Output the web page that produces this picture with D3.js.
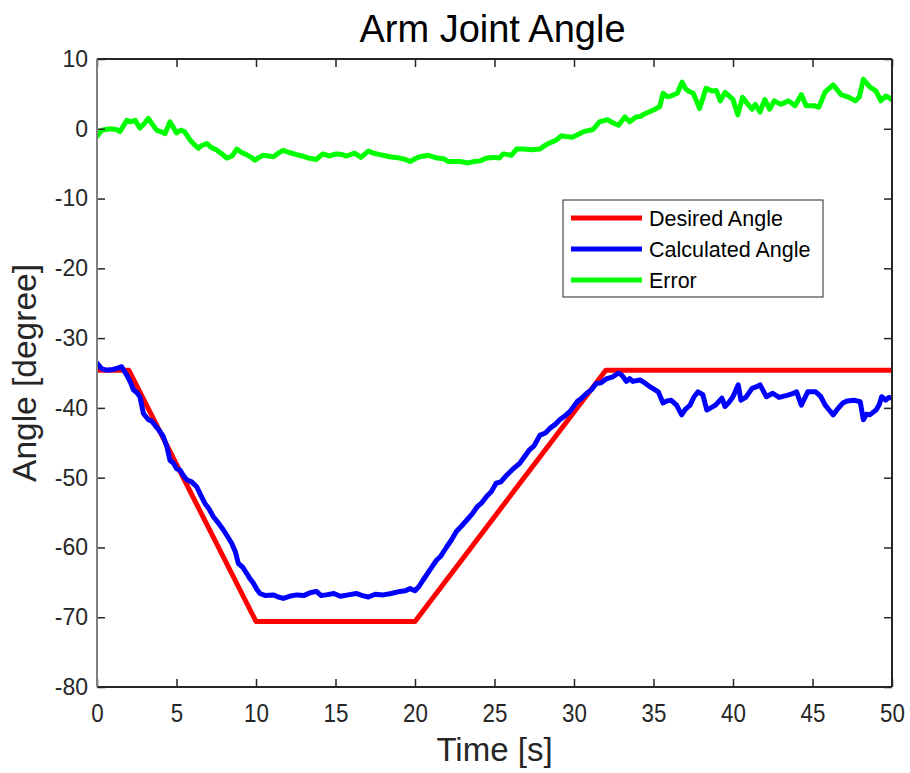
<!DOCTYPE html>
<html>
<head>
<meta charset="utf-8">
<script src="https://cdn.jsdelivr.net/npm/d3@7"></script>
<style>
  html, body { margin: 0; padding: 0; background: #fff; }
  svg { display: block; font-family: Arial, "Liberation Sans", Helvetica, sans-serif; }
</style>
</head>
<body>
<svg id="chart" width="910" height="773"></svg>
<script>
// Reference trajectory: ramp down, hold, ramp up, hold
const desiredTime  = [0, 2, 10, 20, 32, 50];
const desiredAngle = [-34.6, -34.6, -70.6, -70.6, -34.6, -34.6];

// Angle computed from the sensors
const calcTime = [0, 0.3, 0.61, 1.0, 1.3, 1.55, 1.87, 2.1, 2.29, 2.5, 2.7, 2.92, 3.23, 3.45, 3.65, 3.9, 4.17, 4.4, 4.59, 4.8, 5.0, 5.22, 5.4, 5.64, 5.95, 6.27, 6.5, 6.79, 7.05, 7.32, 7.6, 7.95, 8.2, 8.47, 8.7, 8.89, 9.15, 9.41, 9.6, 9.83, 10.05, 10.25, 10.6, 11.09, 11.4, 11.72, 12.1, 12.56, 13.0, 13.4, 13.8, 14.1, 14.4, 14.9, 15.3, 15.8, 16.3, 16.7, 17.07, 17.5, 18.0, 18.5, 19.06, 19.4, 19.69, 20.0, 20.25, 20.5, 20.94, 21.36, 21.6, 22.0, 22.3, 22.6, 22.9, 23.25, 23.6, 23.9, 24.2, 24.5, 24.8, 25.1, 25.4, 25.7, 26.1, 26.6, 27.2, 27.5, 27.86, 28.2, 28.5, 28.8, 29.1, 29.4, 29.75, 30.2, 30.5, 30.8, 31.1, 31.4, 31.7, 32.06, 32.4, 32.8, 33.0, 33.3, 33.5, 33.7, 34.15, 34.5, 34.8, 35.3, 35.6, 35.85, 36.1, 36.45, 36.77, 37.0, 37.3, 37.55, 37.8, 38.1, 38.35, 38.6, 38.9, 39.3, 39.5, 39.75, 40.0, 40.33, 40.5, 40.8, 41.2, 41.45, 41.7, 42.1, 42.5, 42.9, 43.4, 43.7, 44.0, 44.3, 44.7, 45.2, 45.5, 45.8, 46.05, 46.3, 46.6, 46.9, 47.2, 47.6, 48.0, 48.2, 48.4, 48.6, 49.0, 49.2, 49.35, 49.6, 49.8, 50.0];
const calcAngle = [-33.6, -34.4, -34.6, -34.5, -34.3, -34.1, -35.3, -36.3, -37.4, -37.8, -38.4, -40.8, -41.7, -41.9, -42.5, -43.2, -44.1, -45.6, -47.5, -47.9, -48.7, -48.9, -49.6, -50.3, -50.6, -51.3, -52.4, -53.7, -54.5, -55.6, -56.4, -57.5, -58.4, -59.4, -60.6, -62.3, -62.8, -63.7, -64.4, -65.1, -66.0, -66.6, -66.9, -66.8, -67.1, -67.3, -67.0, -66.8, -66.9, -66.5, -66.3, -66.9, -66.8, -66.6, -67.0, -66.8, -66.6, -66.9, -67.1, -66.7, -66.8, -66.6, -66.3, -66.2, -65.9, -66.2, -65.6, -64.7, -63.2, -61.8, -61.3, -59.9, -58.9, -57.7, -57.0, -56.1, -55.2, -54.2, -53.6, -52.7, -52.0, -50.8, -50.6, -49.8, -48.9, -47.9, -46.0, -45.4, -43.9, -43.6, -42.9, -42.4, -41.7, -41.2, -40.5, -39.1, -38.6, -37.9, -37.4, -36.5, -36.4, -35.8, -35.6, -35.0, -35.3, -36.2, -35.8, -36.2, -36.0, -36.5, -37.0, -37.7, -39.3, -39.0, -38.9, -39.6, -41.0, -40.2, -39.6, -38.4, -37.7, -38.1, -40.3, -40.0, -39.6, -38.6, -39.8, -39.2, -38.4, -36.7, -38.9, -38.5, -37.2, -37.0, -36.7, -38.4, -37.9, -38.5, -38.2, -38.0, -37.7, -39.6, -37.7, -37.7, -38.3, -39.6, -40.3, -41.0, -40.1, -39.3, -39.0, -38.9, -39.1, -41.7, -40.9, -41.0, -40.3, -39.5, -38.4, -38.9, -38.5, -38.6];

// Tracking error (desired minus calculated)
const errTime = [0, 0.3, 0.8, 1.2, 1.45, 1.87, 2.1, 2.4, 2.7, 3.0, 3.23, 3.5, 3.75, 4.0, 4.28, 4.59, 4.8, 5.0, 5.25, 5.5, 5.85, 6.1, 6.37, 6.6, 6.9, 7.2, 7.5, 7.8, 8.16, 8.5, 8.79, 9.1, 9.4, 9.7, 9.94, 10.2, 10.46, 10.8, 11.1, 11.4, 11.7, 12.1, 12.55, 12.9, 13.3, 13.8, 14.2, 14.6, 15.05, 15.4, 15.7, 16.2, 16.6, 17.06, 17.4, 17.8, 18.4, 19.05, 19.4, 19.7, 20.0, 20.3, 20.85, 21.4, 21.8, 22.1, 22.85, 23.3, 23.7, 24.1, 24.5, 25.0, 25.3, 25.55, 26.05, 26.4, 26.8, 27.3, 27.86, 28.1, 28.4, 28.9, 29.2, 29.5, 29.9, 30.2, 30.6, 31.2, 31.6, 32.1, 32.5, 32.8, 33.2, 33.5, 33.9, 34.2, 34.5, 35.0, 35.4, 35.6, 35.85, 36.1, 36.5, 36.8, 37.0, 37.2, 37.5, 37.7, 37.9, 38.3, 38.7, 38.95, 39.2, 39.5, 40.0, 40.3, 40.6, 40.9, 41.2, 41.4, 41.7, 42.0, 42.3, 42.6, 43.0, 43.5, 43.9, 44.1, 44.3, 44.6, 45.1, 45.4, 45.8, 46.3, 46.8, 47.3, 47.7, 47.95, 48.2, 48.6, 49.0, 49.3, 49.6, 50.0];
const errAngle = [-1.1, -0.2, 0.0, -0.1, -0.4, 1.2, 1.0, 1.2, 0.1, 0.8, 1.5, 0.6, -0.2, -0.4, -0.7, 1.0, 0.2, -0.6, -0.2, -0.4, -1.6, -2.2, -2.8, -2.4, -2.1, -2.7, -3.0, -3.5, -4.2, -3.9, -2.9, -3.4, -3.7, -4.1, -4.5, -4.1, -3.8, -3.9, -4.0, -3.5, -3.1, -3.4, -3.7, -3.9, -4.2, -4.4, -3.6, -3.9, -3.6, -3.7, -3.9, -3.5, -4.1, -3.2, -3.5, -3.7, -4.0, -4.2, -4.4, -4.7, -4.3, -4.0, -3.8, -4.2, -4.3, -4.7, -4.7, -4.9, -4.7, -4.6, -4.2, -4.1, -4.2, -3.6, -3.8, -2.9, -2.9, -3.0, -2.9, -2.5, -2.1, -1.6, -1.0, -1.1, -1.2, -0.9, -0.4, -0.1, 1.0, 1.3, 0.8, 0.5, 1.7, 1.0, 1.7, 1.8, 2.2, 2.7, 3.2, 5.1, 4.6, 4.7, 5.1, 6.7, 5.8, 5.4, 5.1, 4.0, 2.9, 5.8, 5.4, 5.5, 4.0, 5.2, 4.2, 2.0, 4.5, 3.6, 2.8, 3.5, 2.4, 4.2, 2.8, 4.0, 3.5, 4.0, 3.3, 4.1, 4.9, 3.3, 3.3, 3.1, 5.3, 6.3, 4.9, 4.5, 4.0, 4.6, 7.1, 6.0, 5.4, 4.0, 4.7, 4.2];

const xTicks = [0, 5, 10, 15, 20, 25, 30, 35, 40, 45, 50];
const yTicks = [-80, -70, -60, -50, -40, -30, -20, -10, 0, 10];

const seriesNames  = ["Desired Angle", "Calculated Angle", "Error"];
const seriesColors = ["#ff0000", "#0000ff", "#00ff00"];

const svg = d3.select("#chart");
const margin = { left: 97, right: 18, top: 59, bottom: 86 };
const W = 910, H = 773;

const x = d3.scaleLinear().domain([0, 50]).range([margin.left, W - margin.right]);
const y = d3.scaleLinear().domain([-80, 10]).range([H - margin.bottom, margin.top]);

const axisColor = "#262626";
const plainNumber = d => String(d);   // keeps an ASCII hyphen for negatives

// Curves, clipped to the axes box
svg.append("defs").append("clipPath").attr("id", "plotClip")
  .append("rect")
  .attr("x", x(0)).attr("y", y(10))
  .attr("width", x(50) - x(0)).attr("height", y(-80) - y(10));

const line = d3.line().x(d => x(d[0])).y(d => y(d[1]));
const series = [
  d3.zip(desiredTime, desiredAngle),
  d3.zip(calcTime, calcAngle),
  d3.zip(errTime, errAngle)
];

const plot = svg.append("g").attr("clip-path", "url(#plotClip)");
series.forEach((pts, i) => {
  plot.append("path")
    .datum(pts)
    .attr("fill", "none")
    .attr("stroke", seriesColors[i])
    .attr("stroke-width", 5)
    .attr("stroke-linejoin", "round")
    .attr("stroke-linecap", "round")
    .attr("d", line);
});

// Axes with inward ticks, mirrored on top and right
const tickLen = 8;
const xAxisB = svg.append("g").attr("transform", `translate(0,${y(-80)})`)
  .call(d3.axisBottom(x).tickValues(xTicks).tickSizeInner(-tickLen).tickSizeOuter(0).tickFormat(plainNumber));
const xAxisT = svg.append("g").attr("transform", `translate(0,${y(10)})`)
  .call(d3.axisTop(x).tickValues(xTicks).tickSizeInner(-tickLen).tickSizeOuter(0).tickFormat(""));
const yAxisL = svg.append("g").attr("transform", `translate(${x(0)},0)`)
  .call(d3.axisLeft(y).tickValues(yTicks).tickSizeInner(-tickLen).tickSizeOuter(0).tickPadding(9).tickFormat(plainNumber));
const yAxisR = svg.append("g").attr("transform", `translate(${x(50)},0)`)
  .call(d3.axisRight(y).tickValues(yTicks).tickSizeInner(-tickLen).tickSizeOuter(0).tickFormat(""));

[xAxisB, xAxisT, yAxisL, yAxisR].forEach(g => {
  g.select(".domain").remove();
  g.selectAll(".tick line").attr("stroke", axisColor).attr("stroke-width", 1.5);
});

// Box edges
svg.append("line").attr("x1", x(0)).attr("x2", x(50)).attr("y1", y(-80)).attr("y2", y(-80))
  .attr("stroke", axisColor).attr("stroke-width", 2);
svg.append("line").attr("x1", x(0)).attr("x2", x(50)).attr("y1", y(10)).attr("y2", y(10))
  .attr("stroke", axisColor).attr("stroke-width", 2);
svg.append("line").attr("x1", x(50)).attr("x2", x(50)).attr("y1", y(10)).attr("y2", y(-80))
  .attr("stroke", axisColor).attr("stroke-width", 2);
svg.append("line").attr("x1", x(0)).attr("x2", x(0)).attr("y1", y(10)).attr("y2", y(-80))
  .attr("stroke", "#7f7f7f").attr("stroke-width", 2);

// Tick labels
xAxisB.selectAll(".tick text")
  .attr("fill", axisColor).attr("font-size", 26)
  .attr("y", 35).attr("dy", null)
  .style("transform-box", "fill-box")
  .style("transform-origin", "center")
  .style("transform", "scaleX(0.86)");

yAxisL.selectAll(".tick text")
  .attr("fill", axisColor).attr("font-size", 23);

// Title
svg.append("text")
  .attr("x", (x(0) + x(50)) / 2 - 2).attr("y", 42)
  .attr("text-anchor", "middle")
  .attr("font-size", 38)
  .attr("fill", "#000")
  .text("Arm Joint Angle");

// Axis titles
svg.append("text")
  .attr("x", (x(0) + x(50)) / 2).attr("y", 761)
  .attr("text-anchor", "middle")
  .attr("font-size", 33)
  .attr("fill", axisColor)
  .text("Time [s]");

svg.append("text")
  .attr("transform", `translate(36,${(y(10) + y(-80)) / 2}) rotate(-90)`)
  .attr("text-anchor", "middle")
  .attr("font-size", 33.5)
  .attr("fill", axisColor)
  .text("Angle [degree]");

// Legend
const lg = svg.append("g").attr("transform", "translate(563,200)");
lg.append("rect").attr("x", 0).attr("y", 0).attr("width", 260).attr("height", 97)
  .attr("fill", "#fff").attr("stroke", axisColor).attr("stroke-width", 1);
seriesNames.forEach((name, i) => {
  const cy = 18 + i * 31;
  lg.append("line").attr("x1", 8).attr("x2", 79).attr("y1", cy).attr("y2", cy)
    .attr("stroke", seriesColors[i]).attr("stroke-width", 5);
  lg.append("text").attr("x", 86).attr("y", cy).attr("dy", "0.36em")
    .attr("font-size", 21.5).attr("fill", "#000").text(name);
});
</script>
</body>
</html>
